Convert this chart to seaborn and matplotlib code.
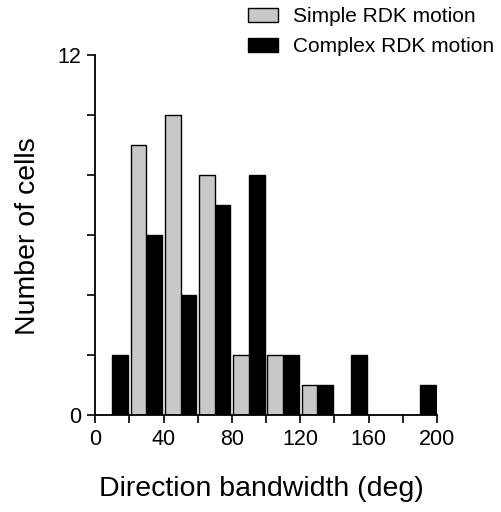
import numpy as np
import pandas as pd
import matplotlib
matplotlib.use("Agg")
import matplotlib.pyplot as plt
import seaborn as sns

# Data
bin_edges = [0, 20, 40, 60, 80, 100, 120, 140, 160, 180, 200]
bin_centers = [10, 30, 50, 70, 90, 110, 130, 150, 170, 190]
simple_counts = [0, 9, 10, 8, 2, 2, 1, 0, 0, 0]
complex_counts = [2, 6, 4, 7, 8, 2, 1, 2, 0, 1]
series_names = ["Simple RDK motion", "Complex RDK motion"]
x_ticks = [0, 20, 40, 60, 80, 100, 120, 140, 160, 180, 200]
x_ticklabels = ["0", "", "40", "", "80", "", "120", "", "160", "", "200"]
y_ticks = [0, 2, 4, 6, 8, 10, 12]
y_ticklabels = ["0", "", "", "", "", "", "12"]

df = pd.DataFrame({
    "bandwidth": bin_centers * 2,
    "count": simple_counts + complex_counts,
    "series": [series_names[0]] * len(bin_centers) + [series_names[1]] * len(bin_centers),
})

sns.set_style("ticks")
plt.rcParams["font.family"] = ["Liberation Sans", "DejaVu Sans"]
plt.rcParams["text.color"] = "black"
plt.rcParams["axes.labelcolor"] = "black"
plt.rcParams["xtick.color"] = "black"
plt.rcParams["ytick.color"] = "black"

fig = plt.figure(figsize=(5.01, 5.12), dpi=100)
ax = fig.add_axes([0.19, 0.19, 0.682, 0.703])

sns.histplot(
    data=df, x="bandwidth", weights="count", hue="series",
    hue_order=series_names, bins=bin_edges, multiple="dodge", shrink=0.92,
    palette={series_names[0]: "#c8c8c8", series_names[1]: "#000000"},
    edgecolor="black", linewidth=1.0, alpha=1.0, ax=ax,
)

ax.set_xlim(0, 200)
ax.set_ylim(0, 12)
ax.set_xticks(x_ticks)
ax.set_xticklabels(x_ticklabels, fontsize=15.5)
ax.set_yticks(y_ticks)
ax.set_yticklabels(y_ticklabels, fontsize=15.5)
ax.tick_params(axis="both", direction="out", length=6, width=1.2, color="black", pad=4)
for s in ["top", "right"]:
    ax.spines[s].set_visible(False)
for s in ["left", "bottom"]:
    ax.spines[s].set_linewidth(1.3)
    ax.spines[s].set_color("black")

ax.set_xlabel("Direction bandwidth (deg)", fontsize=20.5)
ax.xaxis.set_label_coords(0.487, -0.169)
ax.set_ylabel("Number of cells", fontsize=20.5)
ax.yaxis.set_label_coords(-0.158, 0.496)

sns.move_legend(
    ax, loc="upper left", bbox_to_anchor=(248 / 501, 1 - 7 / 512),
    bbox_transform=fig.transFigure, frameon=False, borderpad=0, borderaxespad=0,
    title=None, fontsize=15, handlelength=1.44, handleheight=0.67,
    labelspacing=0.55, handletextpad=0.72,
)

fig.savefig("out.png", dpi=100)
